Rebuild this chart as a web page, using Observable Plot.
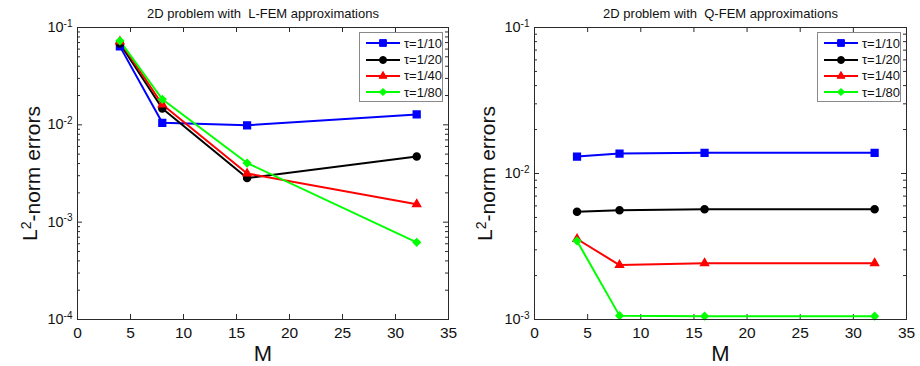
<!DOCTYPE html>
<html><head><meta charset="utf-8">
<script src="https://cdn.jsdelivr.net/npm/d3@7"></script>
<script src="https://cdn.jsdelivr.net/npm/@observablehq/plot@0.6"></script>
<style>
body{margin:0;background:#fff;font-family:"Liberation Sans",Arial,sans-serif;}
#wrap{position:relative;width:920px;height:366px;display:flex;}
.panel{position:relative;width:460px;height:366px;}
.legend{position:absolute;top:32px;width:84px;height:70px;border:1px solid #8a8a8a;background:#fff;box-sizing:border-box;padding-top:2px;}
.legend .row{height:16.4px;display:flex;align-items:center;font-size:13px;color:#111;}
.legend svg{display:block;margin-left:5px;margin-right:3px;}
</style></head><body><div id="wrap"></div>
<script>
const M = [4, 8, 16, 32];
const seriesNames = ["τ=1/10", "τ=1/20", "τ=1/40", "τ=1/80"];
const seriesColors = ["#0000ff", "#000000", "#ff0000", "#00ff00"];
const seriesSymbols = ["square", "circle", "triangle", "diamond2"];
const seriesSymbolRadius = [3.8, 3.5, 2.9, 3.2];

// L-FEM errors
const lfemTau10 = [0.064, 0.0105, 0.0099, 0.0128];
const lfemTau20 = [0.0686, 0.0147, 0.00284, 0.00474];
const lfemTau40 = [0.072, 0.0162, 0.00316, 0.00153];
const lfemTau80 = [0.073, 0.0183, 0.00405, 0.00062];

// Q-FEM errors
const qfemTau10 = [0.01305, 0.0137, 0.01385, 0.01385];
const qfemTau20 = [0.00547, 0.00561, 0.0057, 0.0057];
const qfemTau40 = [0.00356, 0.00236, 0.00243, 0.00243];
const qfemTau80 = [0.00345, 0.001063, 0.001054, 0.001054];

const xTicks = [0, 5, 10, 15, 20, 25, 30, 35];
const lfemYTicks = [1e-4, 1e-3, 1e-2, 1e-1];
const lfemYTickLabels = ["10^-4", "10^-3", "10^-2", "10^-1"];
const qfemYTicks = [1e-3, 1e-2, 1e-1];
const qfemYTickLabels = ["10^-3", "10^-2", "10^-1"];

const titles = ["2D problem with  L-FEM approximations", "2D problem with  Q-FEM approximations"];
const xLabel = "M";
const yLabel = "L^2^-norm errors";

function toRows(seriesArrays) {
  const rows = [];
  seriesArrays.forEach((arr, s) => arr.forEach((v, i) => rows.push({M: M[i], err: v, series: seriesNames[s]})));
  return rows;
}

function panel({rows, yDomain, yTicks, yTickLabels, title, marginLeft, marginRight, legendLeft, yLabelDx}) {
  const W = 460, H = 366, mt = 27, mb = 47;
  const pw = W - marginLeft - marginRight, ph = H - mt - mb;
  const minor = [];
  for (let e = Math.round(Math.log10(yDomain[0])); e < Math.round(Math.log10(yDomain[1])); e++)
    for (let k = 2; k <= 9; k++) minor.push(k * Math.pow(10, e));
  const frameColor = "#2a2a2a";
  const chart = Plot.plot({
    width: W, height: H, marginLeft, marginRight, marginTop: mt, marginBottom: mb,
    style: {fontFamily: "'Liberation Sans', Arial, sans-serif", fontSize: "14px", background: "white", overflow: "visible"},
    x: {domain: [0, 35]},
    y: {type: "log", domain: yDomain},
    color: {domain: seriesNames, range: seriesColors},
    symbol: {domain: seriesNames, range: seriesSymbols},
    marks: [
      Plot.axisX({ticks: xTicks, tickSize: 0, tickPadding: 7, fontSize: 15.5, label: null, fill: "#111"}),
      Plot.axisY({ticks: yTicks, tickSize: 0, tickPadding: 5, fontSize: 14.5, label: null, tickFormat: d => yTickLabels[yTicks.indexOf(d)], fill: "#111"}),
      Plot.tickX(xTicks, {x: d => d, insetTop: ph - 5, stroke: frameColor}),
      Plot.tickX(xTicks, {x: d => d, insetBottom: ph - 5, stroke: frameColor}),
      Plot.tickY(yTicks, {y: d => d, insetRight: pw - 5, stroke: frameColor}),
      Plot.tickY(yTicks, {y: d => d, insetLeft: pw - 5, stroke: frameColor}),
      Plot.tickY(minor, {y: d => d, insetRight: pw - 3, stroke: frameColor}),
      Plot.tickY(minor, {y: d => d, insetLeft: pw - 3, stroke: frameColor}),
      Plot.line(rows, {x: "M", y: "err", z: "series", stroke: "series", strokeWidth: 2}),
      ...seriesNames.map((name, i) =>
        Plot.dot(rows.filter(r => r.series === name), {x: "M", y: "err", fill: "series", stroke: "series", symbol: "series", r: seriesSymbolRadius[i]})),
      Plot.frame({stroke: frameColor}),
      Plot.text([title], {text: d => d, frameAnchor: "top", lineAnchor: "middle", dy: -14, fontSize: 13, fill: "#111"}),
      Plot.text([xLabel], {text: d => d, frameAnchor: "bottom", lineAnchor: "middle", dy: 34, fontSize: 22, fill: "#111"}),
      Plot.text([yLabel], {text: d => d, frameAnchor: "left", textAnchor: "middle", lineAnchor: "middle", rotate: -90, dx: yLabelDx, fontSize: 21, fill: "#111"})
    ]
  });
  // render superscripts (tick labels "10^-k" and the y label "L^2^-norm errors")
  d3.select(chart).selectAll("text").each(function () {
    const t = d3.select(this);
    const s = t.text();
    if (!s.includes("^")) return;
    const parts = s.split("^");
    t.text(null);
    if (parts.length === 2) {
      t.append("tspan").text(parts[0]);
      t.append("tspan").attr("dy", "-0.55em").attr("font-size", "10px").text(parts[1]);
    } else {
      t.append("tspan").text(parts[0]);
      t.append("tspan").attr("dy", "-0.45em").attr("font-size", "14px").text(parts[1]);
      t.append("tspan").attr("dy", "0.45em").text(parts[2]);
    }
  });
  const div = document.createElement("div");
  div.className = "panel";
  div.appendChild(chart);
  const leg = document.createElement("div");
  leg.className = "legend";
  leg.style.left = legendLeft + "px";
  const d3sym = {square: d3.symbolSquare, circle: d3.symbolCircle, triangle: d3.symbolTriangle, diamond2: d3.symbolDiamond2};
  seriesNames.forEach((name, i) => {
    const row = document.createElement("div");
    row.className = "row";
    const rr = seriesSymbolRadius[i];
    const sym = d3.symbol(d3sym[seriesSymbols[i]], rr * rr * Math.PI)();
    row.innerHTML = `<svg width="36" height="12"><line x1="1" x2="35" y1="6" y2="6" stroke="${seriesColors[i]}" stroke-width="2"/><path transform="translate(18,6)" d="${sym}" fill="${seriesColors[i]}" stroke="${seriesColors[i]}"/></svg><span>${name}</span>`;
    leg.appendChild(row);
  });
  div.appendChild(leg);
  return div;
}

const wrap = document.getElementById("wrap");
wrap.appendChild(panel({
  rows: toRows([lfemTau10, lfemTau20, lfemTau40, lfemTau80]),
  yDomain: [1e-4, 1e-1], yTicks: lfemYTicks, yTickLabels: lfemYTickLabels,
  title: titles[0], marginLeft: 77, marginRight: 12, legendLeft: 359, yLabelDx: -47
}));
wrap.appendChild(panel({
  rows: toRows([qfemTau10, qfemTau20, qfemTau40, qfemTau80]),
  yDomain: [1e-3, 1e-1], yTicks: qfemYTicks, yTickLabels: qfemYTickLabels,
  title: titles[1], marginLeft: 74, marginRight: 14, legendLeft: 357, yLabelDx: -49
}));
</script></body></html>
